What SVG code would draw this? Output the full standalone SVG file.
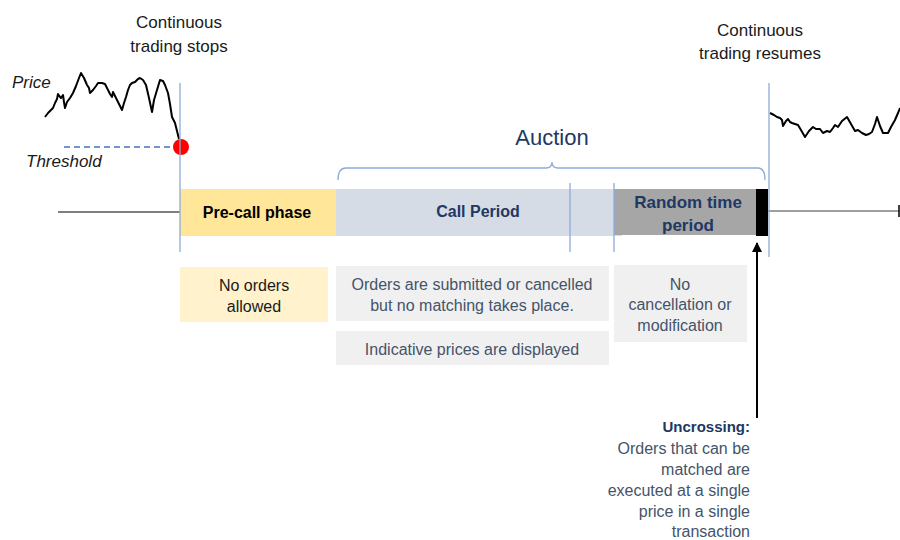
<svg xmlns="http://www.w3.org/2000/svg" width="900" height="540" viewBox="0 0 900 540">
<style>
text{font-family:"Liberation Sans",Arial,sans-serif;}
.lbl{font-size:17px;fill:#1a1a1a;text-anchor:middle;}
.ital{font-size:17px;font-style:italic;fill:#1a1a1a;}
.bold{font-weight:bold;font-size:16px;fill:#203864;text-anchor:middle;}
.rnd{font-weight:bold;font-size:17px;fill:#203864;text-anchor:middle;}
.note{font-size:16px;fill:#44546a;text-anchor:middle;}
.unc{font-size:16px;fill:#44546a;text-anchor:end;}
.vline{stroke:#8eaadb;stroke-width:1.3;fill:none;}
.price{stroke:#000;stroke-width:2;fill:none;stroke-linejoin:round;}
</style>
<defs>
<marker id="ah" viewBox="0 0 10 10" refX="9" refY="5" markerWidth="10" markerHeight="10" markerUnits="userSpaceOnUse" orient="auto">
<path d="M0,0 L10,5 L0,10 Z" fill="#000"/>
</marker>
</defs>
<rect width="900" height="540" fill="#fff"/>

<g id="price-left">
<text class="ital" x="12" y="88">Price</text>
<path class="price" d="M45,117 L48,113 L50,111 L53,108 L55,103 L57,99 L58,94 L60,97 L61,98 L63,95 L64,102 L65,108 L67,102 L70,98 L73,93 L76,86 L79,78 L81,73 L84,78 L87,85 L89,88 L90,93 L93,90 L96,86 L98,83 L102,83 L105,84 L108,90 L110,94 L112,97 L113,92 L116,98 L119,104 L122,110 L124,103 L126,97 L128,90 L130,85 L132,83 L135,82 L138,79 L140,78 L143,80 L146,85 L149,98 L152,112 L154,100 L157,90 L160,80 L163,81 L165,85 L168,93 L170,104 L172,117 L175,123 L177,131 L179,139"/>
<line x1="64" y1="147" x2="178" y2="147" stroke="#4472c4" stroke-width="1.5" stroke-dasharray="6,4"/>
<text class="ital" x="26" y="167">Threshold</text>
<circle cx="181" cy="147" r="8" fill="#ff0000"/>
</g>

<g id="price-right">
<path class="price" d="M770,113 L774,115 L777,117 L780,118 L782,120 L783,126 L786,121 L788,119 L790,122 L792,123 L795,124 L798,125 L801,130 L805,137 L809,131 L813,127 L816,129 L820,129 L823,133 L827,131 L830,132 L833,128 L835,125 L838,127 L842,121 L847,117 L851,124 L855,131 L858,130 L862,133 L866,135 L869,134 L872,132 L875,124 L877,117 L880,126 L883,133 L888,133 L891,127 L895,120 L898,113 L900,108"/>
</g>

<g id="labels-top">
<text class="lbl" x="179" y="28">Continuous</text>
<text class="lbl" x="179" y="52">trading stops</text>
<text class="lbl" x="760" y="36">Continuous</text>
<text class="lbl" x="760" y="59">trading resumes</text>
</g>

<g id="auction">
<text x="552" y="145" font-size="22" fill="#203864" text-anchor="middle">Auction</text>
<path class="vline" d="M338,180 Q338,168 346,168 L546,168 Q552,168 552,162 Q552,168 558,168 L758,168 Q765,168 765,180"/>
</g>

<g id="connectors">
<line x1="58" y1="212" x2="180" y2="212" stroke="#000" stroke-width="1.2"/>
<line x1="768" y1="211" x2="899" y2="211" stroke="#404040" stroke-width="1.2"/>
<line x1="899" y1="205" x2="899" y2="217" stroke="#000" stroke-width="1.5"/>
<line x1="757" y1="418" x2="757" y2="243" stroke="#000" stroke-width="2" marker-end="url(#ah)"/>
</g>

<g id="precall">
<rect x="180" y="189" width="156" height="47" fill="#ffe699"/>
<text x="257" y="218" font-size="16" font-weight="bold" fill="#000" text-anchor="middle">Pre-call phase</text>
</g>

<g id="callperiod">
<rect x="336" y="189" width="286" height="47" fill="#d6dce5"/>
<text class="bold" x="478" y="217">Call Period</text>
</g>

<g id="random">
<rect x="614" y="189" width="142" height="46" fill="#a6a6a6"/>
<text class="rnd" x="688" y="208">Random time</text>
<text class="rnd" x="688" y="231">period</text>
</g>

<g id="uncross-bar">
<rect x="756" y="189" width="12" height="47" fill="#000"/>
</g>

<g id="dividers">
<line class="vline" x1="180" y1="83" x2="180" y2="252"/>
<line class="vline" x1="570" y1="183" x2="570" y2="252"/>
<line class="vline" x1="614" y1="183" x2="614" y2="252"/>
<line class="vline" x1="769" y1="83" x2="769" y2="257"/>
</g>

<g id="no-orders">
<rect x="180" y="267" width="148" height="55" fill="#fff2cc"/>
<text x="254" y="291" font-size="16" fill="#1a1a1a" text-anchor="middle">No orders</text>
<text x="254" y="312" font-size="16" fill="#1a1a1a" text-anchor="middle">allowed</text>
</g>

<g id="orders-submitted">
<rect x="336" y="266" width="273" height="55" fill="#f0f0f0"/>
<text class="note" x="472" y="290">Orders are submitted or cancelled</text>
<text class="note" x="472" y="311">but no matching takes place.</text>
</g>

<g id="indicative">
<rect x="336" y="331" width="273" height="34" fill="#f0f0f0"/>
<text class="note" x="472" y="355">Indicative prices are displayed</text>
</g>

<g id="no-cancel">
<rect x="614" y="265" width="133" height="77" fill="#f0f0f0"/>
<text class="note" x="680" y="290">No</text>
<text class="note" x="680" y="310">cancellation or</text>
<text class="note" x="680" y="331">modification</text>
</g>

<g id="uncrossing">
<text x="750" y="432" font-size="15" font-weight="bold" fill="#203864" text-anchor="end">Uncrossing:</text>
<text class="unc" x="750" y="454">Orders that can be</text>
<text class="unc" x="750" y="475">matched are</text>
<text class="unc" x="750" y="496">executed at a single</text>
<text class="unc" x="750" y="517">price in a single</text>
<text class="unc" x="750" y="537">transaction</text>
</g>
</svg>
